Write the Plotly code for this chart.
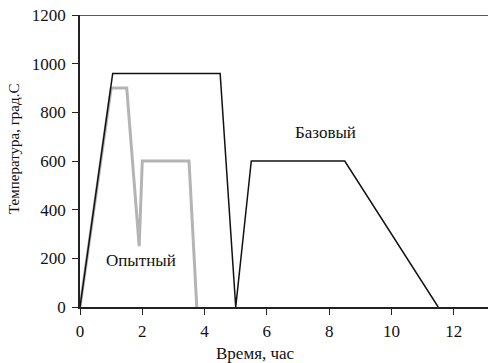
import plotly.graph_objects as go

base_t = [0, 1.05, 4.5, 5.0, 5.5, 8.5, 11.5]
base_T = [0, 960, 960, 0, 600, 600, 0]
exp_t = [0, 1.0, 1.5, 1.9, 2.0, 3.5, 3.75]
exp_T = [0, 900, 900, 250, 600, 600, 0]
x_ticks = [0, 2, 4, 6, 8, 10, 12]
y_ticks = [0, 200, 400, 600, 800, 1000, 1200]

font = "Liberation Serif"
W, H = 488, 363
L, R, T, B = 80, 0, 15, 56
fig = go.Figure()
fig.add_trace(go.Scatter(x=exp_t, y=exp_T, mode="lines",
                         line=dict(color="#b4b4b4", width=3), showlegend=False))
fig.add_trace(go.Scatter(x=base_t, y=base_T, mode="lines",
                         line=dict(color="#111111", width=1.5), showlegend=False))

fig.add_annotation(x=7.88, y=716, text="Базовый", showarrow=False,
                   font=dict(family=font, size=17, color="#111"))
fig.add_annotation(x=1.95, y=193, text="Опытный", showarrow=False,
                   font=dict(family=font, size=17, color="#111"))
# axis titles as annotations (positioned like reference)
fig.add_annotation(xref="paper", yref="paper", x=(255 - L) / (W - L - R), y=(H - B - 353) / (H - T - B),
                   xanchor="center", yanchor="middle", borderpad=0,
                   text="Время, час", showarrow=False, font=dict(family=font, size=17, color="#111"))
fig.add_annotation(xref="paper", yref="paper", x=(14 - L) / (W - L - R), y=(H - B - 149) / (H - T - B),
                   xanchor="center", yanchor="middle",
                   text="Температура, град.С", textangle=-90, showarrow=False,
                   font=dict(family=font, size=15, color="#111"))
fig.add_shape(type="line", xref="paper", yref="y", x0=0, x1=1, y0=1200, y1=1200,
              line=dict(color="#222", width=1.5))

fig.update_layout(
    width=W, height=H,
    margin=dict(l=L, r=R, t=T, b=B),
    plot_bgcolor="white", paper_bgcolor="white",
    font=dict(family=font, size=17, color="#111"),
)
fig.update_xaxes(range=[0, 13.1], tickvals=x_ticks, showgrid=False, zeroline=False,
                 showline=True, linecolor="#222", linewidth=1.5,
                 ticks="outside", ticklen=6, tickcolor="#222", ticklabelstandoff=2)
fig.update_yaxes(range=[0, 1200], tickvals=y_ticks, showgrid=False, zeroline=False,
                 showline=True, linecolor="#222", linewidth=1.5,
                 ticks="outside", ticklen=6, tickcolor="#222", ticklabelstandoff=3)
fig.write_html("out.html", config={"displayModeBar": False},
               post_script="document.body.style.margin='0';")
